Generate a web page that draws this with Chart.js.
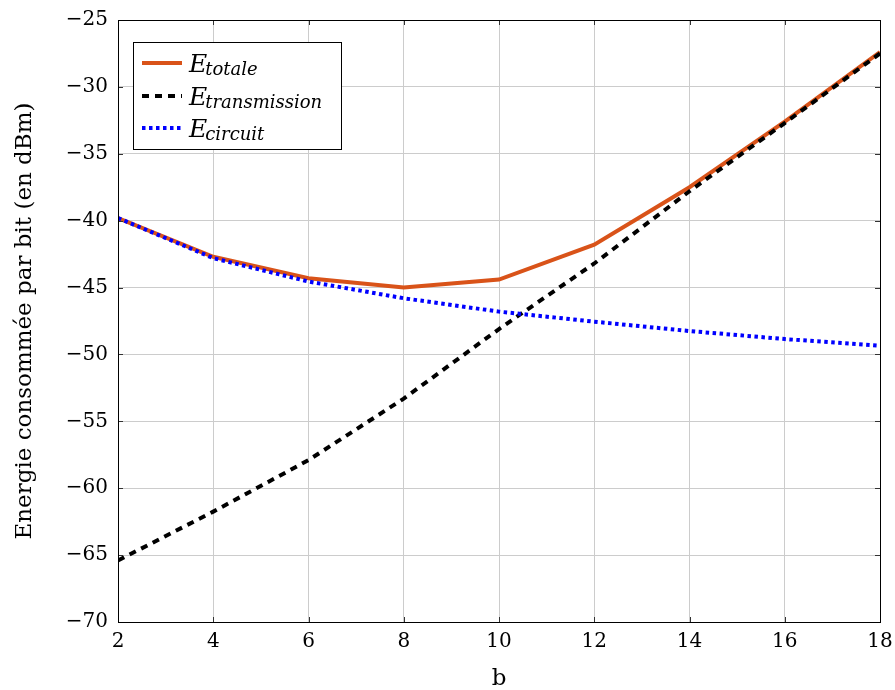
<!DOCTYPE html>
<html>
<head>
<meta charset="utf-8">
<script src="https://cdn.jsdelivr.net/npm/chart.js@4"></script>
<style>
html, body { margin: 0; padding: 0; background: #fff; }
</style>
</head>
<body>
<canvas id="myChart" width="895" height="690"></canvas>
<script>
/* values */
const bValues = [2, 4, 6, 8, 10, 12, 14, 16, 18];
const eTotale = [-39.8, -42.7, -44.3, -45.0, -44.4, -41.8, -37.5, -32.6, -27.4];
const eTransmission = [-65.4, -61.75, -57.9, -53.3, -48.1, -43.2, -37.8, -32.7, -27.5];
const eCircuit = [-39.8, -42.8, -44.55, -45.8, -46.8, -47.55, -48.25, -48.85, -49.35];

const seriesNames = ['totale', 'transmission', 'circuit'];
const xTicks = [2, 4, 6, 8, 10, 12, 14, 16, 18];
const yTicks = [-70, -65, -60, -55, -50, -45, -40, -35, -30, -25];

const serif = "'DejaVu Serif', 'Liberation Serif', serif";
const minus = v => (v < 0 ? '\u2212' + Math.abs(v) : String(v));

function toPoints(ys) {
  return bValues.map((b, i) => ({ x: b, y: ys[i] }));
}

const styles = [
  { color: '#D95319', dash: [] },
  { color: '#000000', dash: [7, 6] },
  { color: '#0000FF', dash: [3.5, 3.5] }
];

/* frame, inner ticks and legend box */
const framePlugin = {
  id: 'frame',
  afterDraw(chart) {
    const { ctx, chartArea: a, scales } = chart;
    ctx.save();
    ctx.strokeStyle = '#333';
    ctx.lineWidth = 1;
    ctx.beginPath();
    xTicks.forEach(t => {
      const px = Math.round(scales.x.getPixelForValue(t)) + 0.5;
      ctx.moveTo(px, a.bottom); ctx.lineTo(px, a.bottom - 5);
      ctx.moveTo(px, a.top); ctx.lineTo(px, a.top + 5);
    });
    yTicks.forEach(t => {
      const py = Math.round(scales.y.getPixelForValue(t)) + 0.5;
      ctx.moveTo(a.left, py); ctx.lineTo(a.left + 5, py);
      ctx.moveTo(a.right, py); ctx.lineTo(a.right - 5, py);
    });
    ctx.stroke();
    ctx.strokeStyle = '#000';
    ctx.strokeRect(Math.round(a.left) + 0.5, Math.round(a.top) + 0.5,
      Math.round(a.right - a.left), Math.round(a.bottom - a.top));

    // legend
    const lx = a.left + 15, ly = a.top + 22, lw = 208, lh = 107;
    ctx.fillStyle = '#fff';
    ctx.fillRect(lx, ly, lw, lh);
    ctx.strokeStyle = '#000';
    ctx.strokeRect(lx + 0.5, ly + 0.5, lw, lh);
    const rows = [ly + 21, ly + 54, ly + 86];
    seriesNames.forEach((name, i) => {
      const y = rows[i];
      ctx.strokeStyle = styles[i].color;
      ctx.lineWidth = 4;
      ctx.setLineDash(styles[i].dash);
      ctx.beginPath();
      ctx.moveTo(lx + 9, y);
      ctx.lineTo(lx + 49, y);
      ctx.stroke();
      ctx.setLineDash([]);
      ctx.fillStyle = '#000';
      ctx.textBaseline = 'alphabetic';
      ctx.textAlign = 'left';
      ctx.font = 'italic 25px ' + serif;
      ctx.fillText('E', lx + 56, y + 9);
      const w = ctx.measureText('E').width;
      ctx.font = 'italic 18px ' + serif;
      ctx.fillText(name, lx + 56 + w - 2, y + 12);
    });
    ctx.restore();
  }
};

const data = {
  datasets: [
    { label: 'E totale', data: toPoints(eTotale), order: 3 },
    { label: 'E transmission', data: toPoints(eTransmission), order: 2 },
    { label: 'E circuit', data: toPoints(eCircuit), order: 1 }
  ].map((d, i) => Object.assign(d, {
    borderColor: styles[i].color,
    backgroundColor: styles[i].color,
    borderDash: styles[i].dash,
    borderWidth: 4,
    pointRadius: 0,
    tension: 0,
    fill: false
  }))
};

const config = {
  type: 'line',
  data: data,
  options: {
    responsive: false,
    animation: false,
    layout: { padding: { left: 0, top: 20, right: 15, bottom: 0 } },
    plugins: { legend: { display: false }, tooltip: { enabled: false } },
    scales: {
      x: {
        type: 'linear',
        min: 2, max: 18,
        afterBuildTicks: s => { s.ticks = xTicks.map(v => ({ value: v })); },
        afterFit: s => { s.height = 68; s.paddingLeft = 0; s.paddingRight = 0; },
        grid: { color: '#cccccc', drawTicks: false },
        border: { display: false },
        ticks: { color: '#000', padding: 8, font: { family: serif, size: 20 }, callback: v => minus(v) },
        title: { display: true, text: 'b', color: '#000', font: { family: serif, size: 23 }, padding: { top: 0, bottom: -3 } }
      },
      y: {
        min: -70, max: -25,
        afterBuildTicks: s => { s.ticks = yTicks.map(v => ({ value: v })); },
        afterFit: s => { s.width = 118; s.paddingTop = 0; s.paddingBottom = 0; },
        grid: { color: '#cccccc', drawTicks: false },
        border: { display: false },
        ticks: { color: '#000', padding: 10, font: { family: serif, size: 20 }, callback: v => minus(v) },
        title: { display: true, text: 'Energie consommée par bit (en dBm)', color: '#000', font: { family: serif, size: 23 }, padding: { top: 11, bottom: 0 } }
      }
    }
  },
  plugins: [framePlugin]
};

var myChart = new Chart(document.getElementById('myChart'), config);
</script>
</body>
</html>
